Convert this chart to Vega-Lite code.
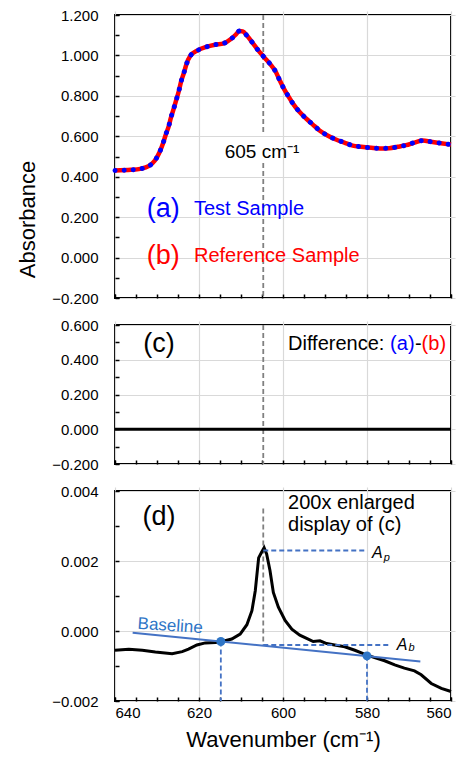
{
  "$schema": "https://vega.github.io/schema/vega-lite/v6.json",
  "padding": {"left": 15, "top": 7, "right": 5, "bottom": 5},
  "bounds": "flush",
  "spacing": 27,
  "config": {
    "font": "Liberation Sans",
    "view": {"stroke": "black", "strokeWidth": 2},
    "axis": {
      "labelFont": "Liberation Sans", "labelFontSize": 15, "labelColor": "black",
      "domain": false, "gridColor": "#d9d9d9", "gridWidth": 1.2,
      "tickColor": "black", "tickSize": 4, "tickWidth": 1.5, "offset": -4,
      "titleFont": "Liberation Sans", "titleFontWeight": "normal", "titleFontSize": 22, "titleColor": "black"
    },
    "text": {"font": "Liberation Sans"}
  },
  "vconcat": [
    {
      "width": 336, "height": 283,
      "data": {"values": [
        {"wn":640,"v":0.431},{"wn":636.2,"v":0.434},{"wn":634,"v":0.439},{"wn":632,"v":0.452},{"wn":630.5,"v":0.48},{"wn":629.4,"v":0.521},{"wn":628.6,"v":0.563},{"wn":627.9,"v":0.609},{"wn":627.2,"v":0.65},{"wn":626.7,"v":0.691},{"wn":626,"v":0.738},{"wn":625.4,"v":0.781},{"wn":624.8,"v":0.824},{"wn":624.3,"v":0.868},{"wn":623.6,"v":0.913},{"wn":623,"v":0.956},{"wn":622.1,"v":0.997},{"wn":620.3,"v":1.025},{"wn":618.3,"v":1.042},{"wn":616.2,"v":1.053},{"wn":614.1,"v":1.06},{"wn":612.4,"v":1.081},{"wn":611.2,"v":1.104},{"wn":610.4,"v":1.121},{"wn":609.6,"v":1.119},{"wn":608.6,"v":1.098},{"wn":607.2,"v":1.061},{"wn":605.9,"v":1.025},{"wn":604.4,"v":0.989},{"wn":603,"v":0.956},{"wn":601.7,"v":0.918},{"wn":600.7,"v":0.873},{"wn":599.7,"v":0.832},{"wn":598.6,"v":0.794},{"wn":597.5,"v":0.758},{"wn":596.1,"v":0.721},{"wn":594.5,"v":0.688},{"wn":592.9,"v":0.658},{"wn":591.3,"v":0.629},{"wn":589.4,"v":0.604},{"wn":587.4,"v":0.584},{"wn":585.4,"v":0.569},{"wn":583.4,"v":0.554},{"wn":581.4,"v":0.548},{"wn":579,"v":0.543},{"wn":576.9,"v":0.54},{"wn":574.7,"v":0.541},{"wn":572.7,"v":0.548},{"wn":570.7,"v":0.556},{"wn":568.7,"v":0.569},{"wn":566.7,"v":0.579},{"wn":564.8,"v":0.573},{"wn":562.4,"v":0.566},{"wn":560,"v":0.559}
      ]},
      "encoding": {
        "x": {"field": "wn", "type": "quantitative",
          "scale": {"domain": [560, 640], "reverse": true, "nice": false, "zero": false},
          "axis": {"title": null, "labels": false,
            "values": [560,565,570,575,580,585,590,595,600,605,610,615,620,625,630,635,640],
            "gridOpacity": {"condition": {"test": "datum.value % 20 !== 0", "value": 0}, "value": 1}}},
        "y": {"field": "v", "type": "quantitative",
          "scale": {"domain": [-0.2, 1.2], "nice": false, "zero": false},
          "axis": {"title": "Absorbance", "titleX": -92, "titleY": 204, "titleBaseline": "middle", "labelPadding": 17,
            "values": [-0.2,-0.1,0,0.1,0.2,0.3,0.4,0.5,0.6,0.7,0.8,0.9,1.0,1.1,1.2],
            "labelExpr": "round(datum.value*10) % 2 === 0 ? format(datum.value, '.3f') : ''",
            "gridOpacity": {"condition": {"test": "round(datum.value*10) % 2 !== 0", "value": 0}, "value": 1}}}
      },
      "layer": [
        {
          "data": {"values": [{"x": 604.7, "y1": 1.2, "y2": 0.606}, {"x": 604.7, "y1": 0.468, "y2": -0.2}]},
          "mark": {"type": "rule", "color": "#808080", "strokeWidth": 1.8, "strokeDash": [5, 3]},
          "encoding": {"x": {"field": "x", "type": "quantitative"}, "y": {"field": "y1", "type": "quantitative"}, "y2": {"field": "y2"}}
        },
        {"mark": {"type": "line", "color": "#ff0000", "strokeWidth": 4.5, "interpolate": "monotone"}},
        {"mark": {"type": "line", "color": "#0000ff", "strokeWidth": 5, "strokeCap": "round", "strokeDash": [0.1, 9], "interpolate": "monotone"}},
        {
          "data": {"values": [{"x": 605, "y": 0.52, "t": "605 cm⁻¹"}]},
          "mark": {"type": "text", "fontSize": 19, "color": "black", "align": "center", "baseline": "middle"},
          "encoding": {"x": {"field": "x", "type": "quantitative"}, "y": {"field": "y", "type": "quantitative"}, "text": {"field": "t"}}
        },
        {
          "data": {"values": [{"x": 628.5, "y": 0.24, "t": "(a)"}]},
          "mark": {"type": "text", "fontSize": 27, "color": "#0000ff", "align": "center", "baseline": "middle"},
          "encoding": {"x": {"field": "x", "type": "quantitative"}, "y": {"field": "y", "type": "quantitative"}, "text": {"field": "t"}}
        },
        {
          "data": {"values": [{"x": 621.2, "y": 0.24, "t": "Test Sample"}]},
          "mark": {"type": "text", "fontSize": 20, "color": "#0000ff", "align": "left", "baseline": "middle"},
          "encoding": {"x": {"field": "x", "type": "quantitative"}, "y": {"field": "y", "type": "quantitative"}, "text": {"field": "t"}}
        },
        {
          "data": {"values": [{"x": 628.5, "y": 0.01, "t": "(b)"}]},
          "mark": {"type": "text", "fontSize": 27, "color": "#ff0000", "align": "center", "baseline": "middle"},
          "encoding": {"x": {"field": "x", "type": "quantitative"}, "y": {"field": "y", "type": "quantitative"}, "text": {"field": "t"}}
        },
        {
          "data": {"values": [{"x": 621.2, "y": 0.01, "t": "Reference Sample"}]},
          "mark": {"type": "text", "fontSize": 20, "color": "#ff0000", "align": "left", "baseline": "middle"},
          "encoding": {"x": {"field": "x", "type": "quantitative"}, "y": {"field": "y", "type": "quantitative"}, "text": {"field": "t"}}
        }
      ]
    },
    {
      "width": 336, "height": 139,
      "encoding": {
        "x": {"type": "quantitative",
          "scale": {"domain": [560, 640], "reverse": true, "nice": false, "zero": false},
          "axis": {"title": null, "labels": false,
            "values": [560,565,570,575,580,585,590,595,600,605,610,615,620,625,630,635,640],
            "gridOpacity": {"condition": {"test": "datum.value % 20 !== 0", "value": 0}, "value": 1}}},
        "y": {"type": "quantitative",
          "scale": {"domain": [-0.2, 0.6], "nice": false, "zero": false},
          "axis": {"title": null, "labelPadding": 17,
            "values": [-0.2,-0.1,0,0.1,0.2,0.3,0.4,0.5,0.6],
            "labelExpr": "round(datum.value*10) % 2 === 0 ? format(datum.value, '.3f') : ''",
            "gridOpacity": {"condition": {"test": "round(datum.value*10) % 2 !== 0", "value": 0}, "value": 1}}}
      },
      "layer": [
        {
          "data": {"values": [{"x": 604.7, "y1": 0.6, "y2": -0.2}]},
          "mark": {"type": "rule", "color": "#808080", "strokeWidth": 1.8, "strokeDash": [5, 3]},
          "encoding": {"x": {"field": "x"}, "y": {"field": "y1"}, "y2": {"field": "y2"}}
        },
        {
          "data": {"values": [{"x1": 640, "x2": 560, "y": 0}]},
          "mark": {"type": "rule", "color": "black", "strokeWidth": 3},
          "encoding": {"x": {"field": "x1"}, "x2": {"field": "x2"}, "y": {"field": "y"}}
        },
        {
          "data": {"values": [{"x": 629.5, "y": 0.49, "t": "(c)"}]},
          "mark": {"type": "text", "fontSize": 27, "color": "black", "align": "center", "baseline": "middle"},
          "encoding": {"x": {"field": "x"}, "y": {"field": "y"}, "text": {"field": "t"}}
        },
        {
          "data": {"values": [{"x": 598.8, "y": 0.49, "t": "Difference:"}, {"x": 568.6, "y": 0.49, "t": "-"}]},
          "mark": {"type": "text", "fontSize": 20, "color": "black", "align": "left", "baseline": "middle"},
          "encoding": {"x": {"field": "x"}, "y": {"field": "y"}, "text": {"field": "t"}}
        },
        {
          "data": {"values": [{"x": 574.5, "y": 0.49, "t": "(a)"}]},
          "mark": {"type": "text", "fontSize": 20, "color": "#0000ff", "align": "left", "baseline": "middle"},
          "encoding": {"x": {"field": "x"}, "y": {"field": "y"}, "text": {"field": "t"}}
        },
        {
          "data": {"values": [{"x": 567.0, "y": 0.49, "t": "(b)"}]},
          "mark": {"type": "text", "fontSize": 20, "color": "#ff0000", "align": "left", "baseline": "middle"},
          "encoding": {"x": {"field": "x"}, "y": {"field": "y"}, "text": {"field": "t"}}
        }
      ]
    },
    {
      "width": 336, "height": 210,
      "encoding": {
        "x": {"type": "quantitative",
          "scale": {"domain": [560, 640], "reverse": true, "nice": false, "zero": false},
          "axis": {"title": "Wavenumber (cm⁻¹)", "labelPadding": 4, "titlePadding": 9,
            "values": [560,565,570,575,580,585,590,595,600,605,610,615,620,625,630,635,640],
            "labelExpr": "datum.value % 20 === 0 ? datum.label : ''",
            "gridOpacity": {"condition": {"test": "datum.value % 20 !== 0", "value": 0}, "value": 1}}},
        "y": {"type": "quantitative",
          "scale": {"domain": [-0.002, 0.004], "nice": false, "zero": false},
          "axis": {"title": null, "labelPadding": 17,
            "values": [-0.002,-0.001,0,0.001,0.002,0.003,0.004],
            "labelExpr": "round(datum.value*1000) % 2 === 0 ? format(datum.value, '.3f') : ''",
            "gridOpacity": {"condition": {"test": "round(datum.value*1000) % 2 !== 0", "value": 0}, "value": 1}}}
      },
      "layer": [
        {
          "data": {"values": [{"x": 604.7, "y1": 0.0035, "y2": -0.0004}]},
          "mark": {"type": "rule", "color": "#808080", "strokeWidth": 1.8, "strokeDash": [5, 3]},
          "encoding": {"x": {"field": "x"}, "y": {"field": "y1"}, "y2": {"field": "y2"}}
        },
        {
          "data": {"values": [
            {"wn":640,"d":-0.00055},{"wn":636.7,"d":-0.00052},{"wn":633.5,"d":-0.00055},{"wn":630.4,"d":-0.0006},{"wn":626.4,"d":-0.00065},{"wn":624,"d":-0.00059},{"wn":622.5,"d":-0.00052},{"wn":620.5,"d":-0.0004},{"wn":618.5,"d":-0.00034},{"wn":616.1,"d":-0.00033},{"wn":614.5,"d":-0.0003},{"wn":612.2,"d":-0.00023},{"wn":610.2,"d":-0.00009},{"wn":608.6,"d":0.00018},{"wn":607.4,"d":0.00058},{"wn":606.6,"d":0.00115},{"wn":605.8,"d":0.00209},{"wn":605.1,"d":0.00225},{"wn":604.5,"d":0.00238},{"wn":603.9,"d":0.0022},{"wn":603.1,"d":0.00173},{"wn":602.3,"d":0.0011},{"wn":601.1,"d":0.00068},{"wn":599.5,"d":0.0003},{"wn":597.9,"d":0.00005},{"wn":596,"d":-0.00012},{"wn":594,"d":-0.00023},{"wn":592.8,"d":-0.0003},{"wn":591.2,"d":-0.00028},{"wn":589.6,"d":-0.00036},{"wn":587.7,"d":-0.0004},{"wn":585.3,"d":-0.00045},{"wn":582.9,"d":-0.00055},{"wn":580.6,"d":-0.00066},{"wn":578.2,"d":-0.00076},{"wn":575.8,"d":-0.00085},{"wn":573.4,"d":-0.00097},{"wn":571.1,"d":-0.00106},{"wn":568.7,"d":-0.00114},{"wn":567.1,"d":-0.00125},{"wn":564.7,"d":-0.0015},{"wn":562.3,"d":-0.00164},{"wn":560,"d":-0.00173}
          ]},
          "mark": {"type": "line", "color": "black", "strokeWidth": 3},
          "encoding": {"x": {"field": "wn"}, "y": {"field": "d"}}
        },
        {
          "data": {"values": [
            {"x1": 604.7, "x2": 580, "y1": 0.0023, "y2": 0.0023},
            {"x1": 604.7, "x2": 574.3, "y1": -0.0004, "y2": -0.0004},
            {"x1": 614.8, "x2": 614.8, "y1": -0.0003, "y2": -0.002},
            {"x1": 580, "x2": 580, "y1": -0.00071, "y2": -0.002}
          ]},
          "mark": {"type": "rule", "color": "#4472c4", "strokeWidth": 1.8, "strokeDash": [5, 3]},
          "encoding": {"x": {"field": "x1"}, "x2": {"field": "x2"}, "y": {"field": "y1"}, "y2": {"field": "y2"}}
        },
        {
          "data": {"values": [{"x1": 635.8, "x2": 567.3, "y1": -0.00005, "y2": -0.00087}]},
          "mark": {"type": "rule", "color": "#4472c4", "strokeWidth": 2},
          "encoding": {"x": {"field": "x1"}, "x2": {"field": "x2"}, "y": {"field": "y1"}, "y2": {"field": "y2"}}
        },
        {
          "data": {"values": [{"x": 614.8, "y": -0.0003}, {"x": 580, "y": -0.00071}]},
          "mark": {"type": "point", "filled": true, "shape": "circle", "size": 80, "color": "#2e75c6", "opacity": 1},
          "encoding": {"x": {"field": "x"}, "y": {"field": "y"}}
        },
        {
          "data": {"values": [{"x": 634.6, "y": 0.00021, "t": "Baseline"}]},
          "mark": {"type": "text", "fontSize": 17, "color": "#2e75c6", "align": "left", "baseline": "middle", "angle": 4},
          "encoding": {"x": {"field": "x"}, "y": {"field": "y"}, "text": {"field": "t"}}
        },
        {
          "data": {"values": [{"x": 629.5, "y": 0.00325, "t": "(d)"}]},
          "mark": {"type": "text", "fontSize": 27, "color": "black", "align": "center", "baseline": "middle"},
          "encoding": {"x": {"field": "x"}, "y": {"field": "y"}, "text": {"field": "t"}}
        },
        {
          "data": {"values": [{"x": 598.8, "y": 0.00365, "t": "200x enlarged"}, {"x": 598.8, "y": 0.00302, "t": "display of (c)"}]},
          "mark": {"type": "text", "fontSize": 20, "color": "black", "align": "left", "baseline": "middle"},
          "encoding": {"x": {"field": "x"}, "y": {"field": "y"}, "text": {"field": "t"}}
        },
        {
          "data": {"values": [{"x": 578.8, "y": 0.00224, "t": "A"}, {"x": 572.9, "y": -0.00041, "t": "A"}]},
          "mark": {"type": "text", "fontSize": 16, "fontStyle": "italic", "color": "black", "align": "left", "baseline": "middle"},
          "encoding": {"x": {"field": "x"}, "y": {"field": "y"}, "text": {"field": "t"}}
        },
        {
          "data": {"values": [{"x": 576.0, "y": 0.0021, "t": "p"}, {"x": 570.1, "y": -0.00048, "t": "b"}]},
          "mark": {"type": "text", "fontSize": 11, "fontStyle": "italic", "color": "black", "align": "left", "baseline": "middle"},
          "encoding": {"x": {"field": "x"}, "y": {"field": "y"}, "text": {"field": "t"}}
        }
      ]
    }
  ]
}
